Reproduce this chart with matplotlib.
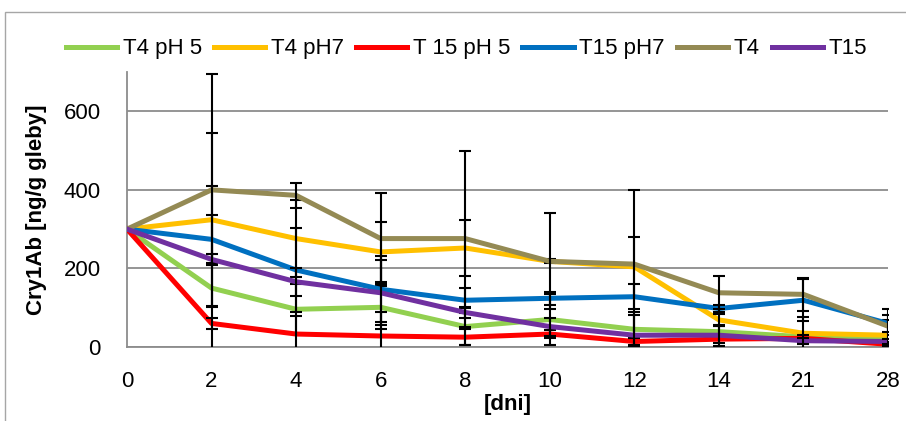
import matplotlib
matplotlib.use('Agg')
import matplotlib.pyplot as plt
from matplotlib.patches import Rectangle

# dane
days = ['0', '2', '4', '6', '8', '10', '12', '14', '21', '28']
series_names = ['T4 pH 5', 'T4 pH7', 'T 15 pH 5', 'T15 pH7', 'T4', 'T15']

t4_ph5 = [300, 150, 96, 101, 52, 70, 45, 39, 26, 22]
t4_ph7 = [300, 324, 276, 242, 252, 218, 204, 69, 35, 30]
t15_ph5 = [300, 60, 33, 28, 25, 33, 14, 20, 22, 7]
t15_ph7 = [300, 274, 196, 147, 119, 124, 128, 98, 119, 60]
t4 = [300, 400, 386, 276, 276, 218, 211, 138, 134, 53]
t15 = [300, 223, 166, 138, 88, 52, 30, 30, 16, 14]

# odchylenia (dzien 0 bez slupkow bledu)
t4_ph5_err = [0, 259, 64, 54, 48, 66, 43, 14, 10, 8]
t4_ph7_err = [0, 221, 98, 76, 71, 5, 76, 16, 42, 39]
t15_ph5_err = [0, 15, 46, 60, 20, 11, 10, 10, 8, 5]
t15_ph7_err = [0, 61, 106, 84, 32, 17, 32, 9, 53, 21]
t4_err = [0, 295, 32, 116, 224, 122, 188, 42, 42, 45]
t15_err = [0, 15, 36, 83, 15, 23, 51, 27, 8, 6]

colors = ['#92D050', '#FFC000', '#FF0000', '#0070C0', '#948A54', '#7030A0']

plt.rcParams['font.family'] = ['Liberation Sans', 'DejaVu Sans']

fig = plt.figure(figsize=(9.06, 4.21), dpi=100)
ax = fig.add_axes([127 / 906, 1 - 347 / 421, (888 - 127) / 906, (347 - 72) / 421])

x = list(range(len(days)))
values = [t4_ph5, t4_ph7, t15_ph5, t15_ph7, t4, t15]
errors = [t4_ph5_err, t4_ph7_err, t15_ph5_err, t15_ph7_err, t4_err, t15_err]

handles = []
for i, (vals, err, col, name) in enumerate(zip(values, errors, colors, series_names)):
    line, = ax.plot(x, vals, color=col, lw=3.6, label=name,
                    solid_joinstyle='round', zorder=3 + 2 * i)
    ax.errorbar(x[1:], vals[1:], yerr=err[1:], fmt='none', ecolor='black',
                elinewidth=1.5, capsize=4, capthick=1.5, zorder=4 + 2 * i)
    handles.append(line)

ax.set_xlim(0, len(days) - 1)
ax.set_ylim(0, 700)
ax.set_xticks(x)
ax.set_xticklabels(days)
ax.set_yticks([0, 200, 400, 600])
ax.tick_params(axis='both', length=0, labelsize=16)
ax.tick_params(axis='x', pad=17)
ax.tick_params(axis='y', pad=19)

ax.yaxis.grid(True, color='#8c8c8c', lw=1.3)
ax.set_axisbelow(True)
for side in ['top', 'right']:
    ax.spines[side].set_visible(False)
for side in ['left', 'bottom']:
    ax.spines[side].set_color('#8c8c8c')
    ax.spines[side].set_linewidth(1.3)

ax.set_ylabel('Cry1Ab [ng/g gleby]', fontsize=16, fontweight='bold', labelpad=12)
ax.set_xlabel('[dni]', fontsize=16, fontweight='bold', labelpad=2)

fig.legend(handles, series_names, loc='center', bbox_to_anchor=(0.515, 0.884),
           ncol=6, frameon=False, fontsize=16, handlelength=2.3,
           handletextpad=0.25, columnspacing=0.55)

# ramka wykresu
fig.patches.append(Rectangle((5 / 906, -0.1), 1.2, 1 - 12 / 421 + 0.1,
                             transform=fig.transFigure, fill=False,
                             edgecolor='#a6a6a6', lw=1))

fig.savefig('out.png', dpi=100)
